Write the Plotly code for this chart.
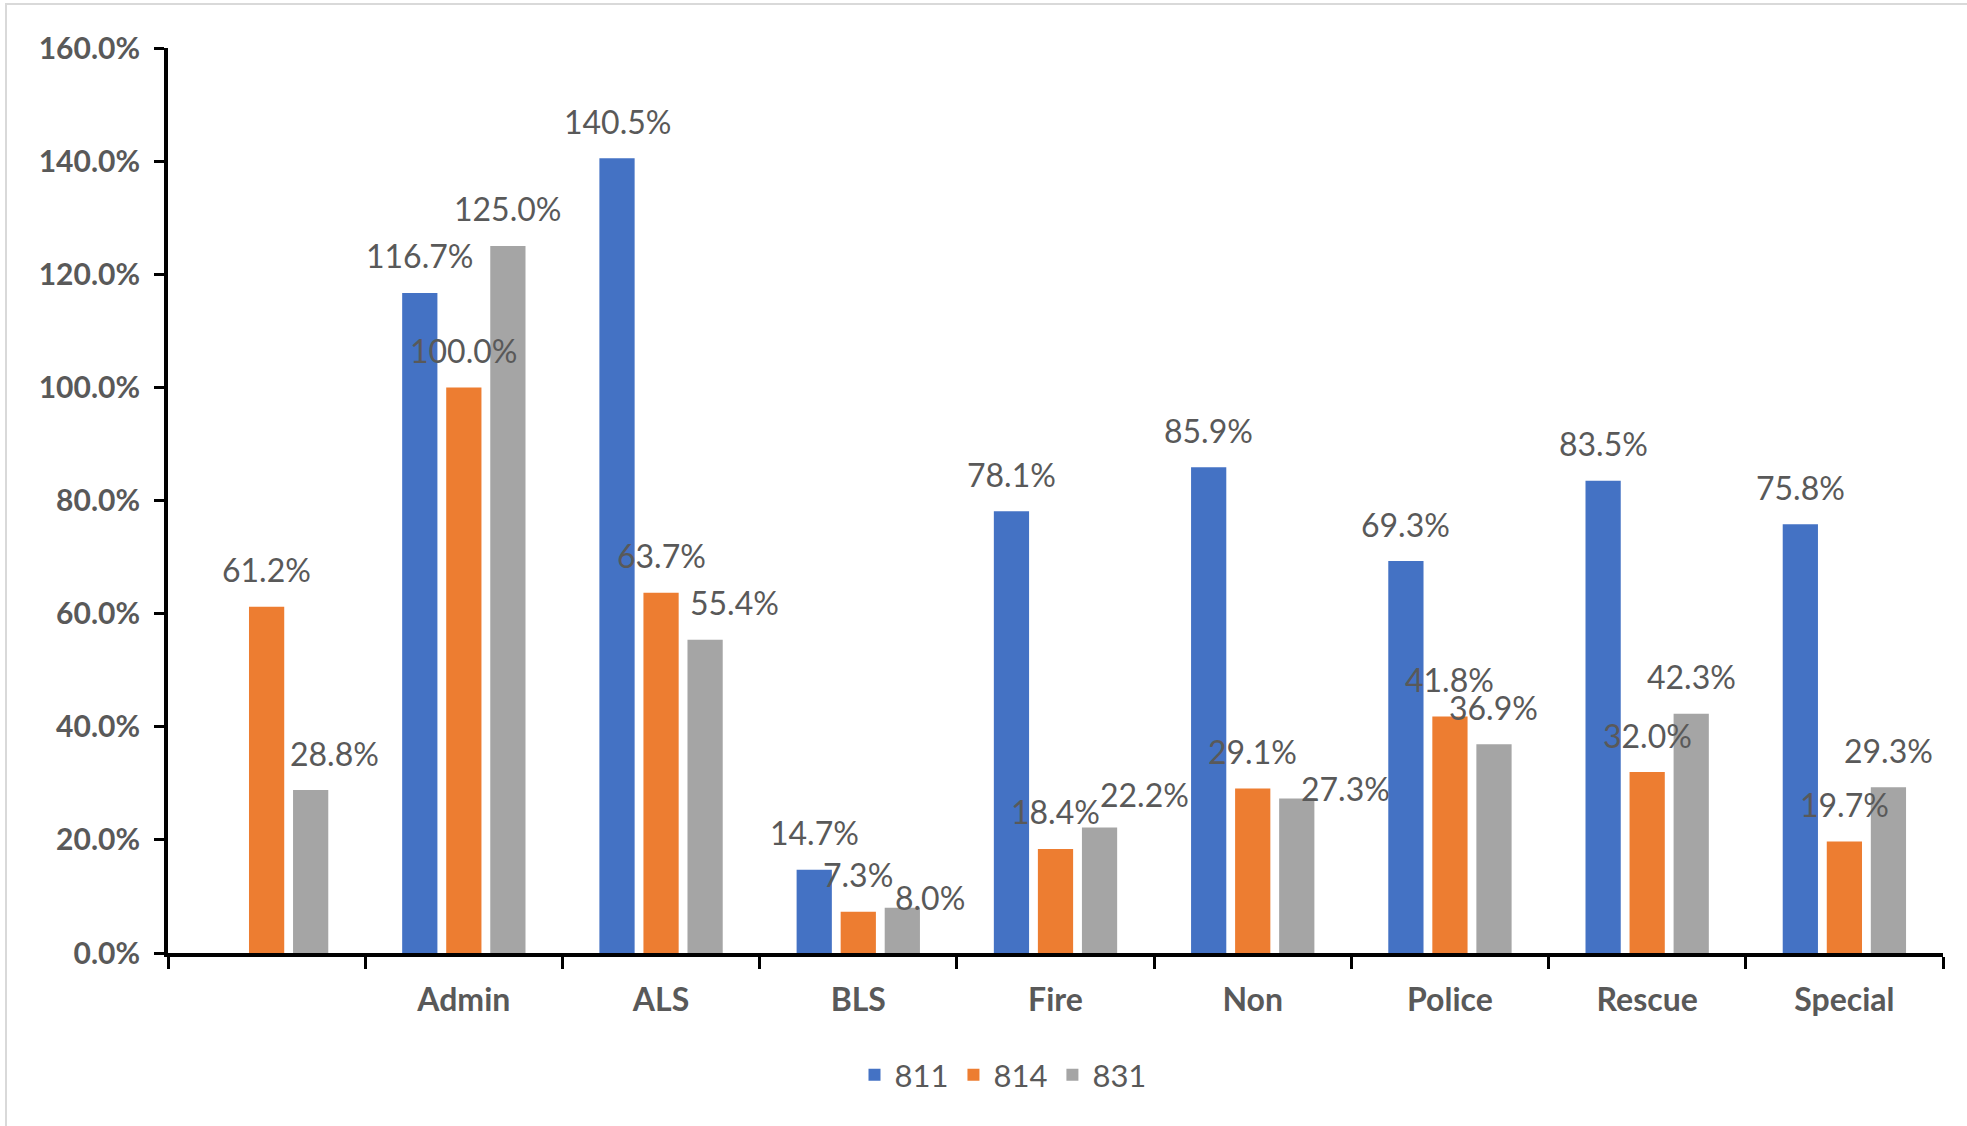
import plotly.graph_objects as go

categories = ["", "Admin", "ALS", "BLS", "Fire", "Non", "Police", "Rescue", "Special"]
series_names = ["811", "814", "831"]
values_811 = [None, 116.7, 140.5, 14.7, 78.1, 85.9, 69.3, 83.5, 75.8]
values_814 = [61.2, 100.0, 63.7, 7.3, 18.4, 29.1, 41.8, 32.0, 19.7]
values_831 = [28.8, 125.0, 55.4, 8.0, 22.2, 27.3, 36.9, 42.3, 29.3]
y_ticks = [0, 20, 40, 60, 80, 100, 120, 140, 160]

series_values = [values_811, values_814, values_831]
colors = ["#4472C4", "#ED7D31", "#A5A5A5"]

# label placement styling (pixels)
slot_offsets = [-44, 0, 44]
base_lift = 37
# extra displacement for a few labels (series index, category index): (dx, dy)
label_adjust = {
    (2, 0): (24, 0),
    (2, 2): (29, 0),
    (2, 3): (28, -27),
    (2, 4): (45, -4),
    (2, 5): (49, -27),
}

FONT = "Lato"
GREY = "#595959"

fig = go.Figure()
for name, vals, col in zip(series_names, series_values, colors):
    fig.add_trace(go.Bar(
        name=name, x=categories, y=vals, marker_color=col,
        marker_line_width=0,
    ))

annotations = []
for si, vals in enumerate(series_values):
    for ci, v in enumerate(vals):
        if v is None:
            continue
        dx, dy = label_adjust.get((si, ci), (0, 0))
        annotations.append(dict(
            x=ci, y=v, xref="x", yref="y",
            text=f"{v:.1f}%", showarrow=False,
            xshift=slot_offsets[si] + dx, yshift=base_lift + dy,
            yanchor="middle", xanchor="center",
            font=dict(family=FONT, size=32, color=GREY),
        ))

W, H = 1967, 1126
L, R, T, B = 168, 24, 48, 173
pw, ph = W - L - R, H - T - B

def px_x(p):
    return (p - L) / pw

def px_y(p):
    return (H - B - p) / ph

fig.update_layout(
    width=W, height=H,
    margin=dict(l=L, r=R, t=T, b=B),
    paper_bgcolor="white", plot_bgcolor="white",
    barmode="group", bargap=0.33, bargroupgap=0.2,
    font=dict(family=FONT, color=GREY),
    showlegend=True,
    legend=dict(
        orientation="h", x=px_x(1003), xanchor="center",
        y=px_y(1075), yanchor="middle",
        font=dict(family=FONT, size=31, color=GREY),
        itemwidth=30,
    ),
    annotations=annotations,
    shapes=[dict(
        type="rect", xref="paper", yref="paper",
        x0=px_x(6), x1=px_x(1975), y0=px_y(1135), y1=px_y(4),
        line=dict(color="#D9D9D9", width=2), fillcolor="rgba(0,0,0,0)",
        layer="below",
    )],
)

fig.update_xaxes(
    type="category", categoryorder="array", categoryarray=categories,
    showline=True, linecolor="black", linewidth=4,
    ticks="outside", tickson="boundaries", ticklen=12, tickwidth=3, tickcolor="black",
    tickfont=dict(family=FONT, size=32, color=GREY, weight="bold"),
    ticklabelstandoff=16,
    showgrid=False, zeroline=False,
)
fig.update_yaxes(
    range=[0, 160], tickvals=y_ticks, ticktext=[f"{t:.1f}%" for t in y_ticks],
    showline=True, linecolor="black", linewidth=4,
    ticks="outside", ticklen=10, tickwidth=3, tickcolor="black",
    tickfont=dict(family=FONT, size=30, color=GREY, weight="bold"),
    ticklabelstandoff=8,
    showgrid=False, zeroline=False,
)

fig.write_html(
    "out.html",
    config={"displayModeBar": False},
    post_script="document.body.style.margin='0';document.body.style.overflow='hidden';",
)
